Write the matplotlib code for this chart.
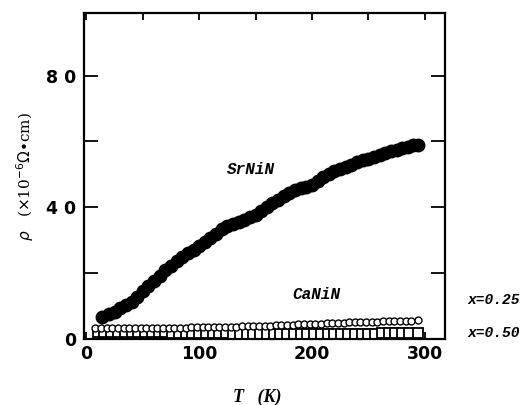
import matplotlib
matplotlib.use("Agg")
import matplotlib.pyplot as plt
from matplotlib.ticker import MultipleLocator, FuncFormatter

# ---- data ----
T_sr = [14, 20, 25, 30, 35, 40, 45, 50, 55, 60, 65, 70, 75, 80, 85, 90, 95, 100,
        105, 110, 115, 120, 125, 130, 135, 140, 145, 150, 155, 160, 165, 170, 175,
        180, 185, 190, 195, 200, 205, 210, 215, 220, 225, 230, 235, 240, 245, 250,
        255, 260, 265, 270, 275, 280, 285, 290, 294]
rho_sr = [6.7, 7.6, 8.3, 9.3, 10.2, 11.3, 12.8, 14.5, 16.0, 17.5, 19.2, 20.8, 22.3,
          23.6, 25.0, 26.2, 27.0, 28.2, 29.6, 30.8, 32.0, 33.3, 34.2, 35.0, 35.6,
          36.2, 37.0, 37.8, 39.0, 40.2, 41.3, 42.3, 43.3, 44.3, 45.2, 45.8, 46.0,
          46.8, 48.0, 49.2, 50.2, 51.0, 51.6, 52.2, 52.9, 53.6, 54.2, 54.8, 55.3,
          56.0, 56.5, 57.0, 57.5, 58.0, 58.4, 58.8, 59.0]

T_025 = [8, 13, 18, 23, 28, 33, 38, 43, 48, 53, 58, 63, 68, 73, 78, 83, 88, 93, 98,
         103, 108, 113, 118, 123, 128, 133, 138, 143, 148, 153, 158, 163, 168, 173,
         178, 183, 188, 193, 198, 203, 208, 213, 218, 223, 228, 233, 238, 243, 248,
         253, 258, 263, 268, 273, 278, 283, 288, 294]
rho_025 = [3.3, 3.3, 3.3, 3.3, 3.3, 3.3, 3.3, 3.3, 3.3, 3.3, 3.3, 3.3, 3.3, 3.4,
           3.4, 3.4, 3.4, 3.5, 3.5, 3.5, 3.5, 3.6, 3.6, 3.6, 3.7, 3.7, 3.8, 3.8,
           3.9, 3.9, 4.0, 4.0, 4.1, 4.2, 4.3, 4.3, 4.4, 4.5, 4.6, 4.6, 4.7, 4.8,
           4.9, 4.9, 5.0, 5.1, 5.1, 5.2, 5.2, 5.3, 5.3, 5.4, 5.4, 5.5, 5.5, 5.6,
           5.6, 5.7]

T_050 = [10, 16, 22, 28, 34, 40, 46, 52, 58, 64, 70, 76, 82, 88, 94, 100, 106, 112,
         118, 124, 130, 136, 142, 148, 154, 160, 166, 172, 178, 184, 190, 196, 202,
         208, 214, 220, 226, 232, 238, 244, 250, 256, 262, 268, 274, 280, 286, 294]
rho_050 = [2.0, 2.0, 2.0, 2.0, 2.0, 2.0, 2.0, 2.0, 2.0, 2.0, 2.0, 1.9, 1.9, 1.9, 1.9,
           1.9, 1.9, 1.9, 1.8, 1.8, 1.6, 1.6, 1.6, 1.6, 1.6, 1.6, 1.6, 1.6, 1.6,
           1.6, 1.6, 1.6, 1.6, 1.6, 1.6, 1.6, 1.6, 1.6, 1.6, 1.6, 1.6, 1.6, 1.7,
           1.7, 1.7, 1.7, 1.8, 1.8]

x_ticks_labeled = [0, 100, 200, 300]
y_ticks_labeled = [0, 40, 80]

fig = plt.figure(figsize=(5.26, 4.05), dpi=100)
ax = fig.add_axes([0.160, 0.163, 0.686, 0.805])

ax.plot(T_050, rho_050, linestyle='none', marker='s', markersize=7.5,
        markerfacecolor='white', markeredgecolor='black', markeredgewidth=1.3)
ax.plot(T_025, rho_025, linestyle='none', marker='o', markersize=5,
        markerfacecolor='white', markeredgecolor='black', markeredgewidth=1.0)
ax.plot(T_sr, rho_sr, linestyle='none', marker='o', markersize=9,
        markerfacecolor='black', markeredgecolor='black')

ax.set_xlim(-2, 318)
ax.set_ylim(0, 99)

ax.xaxis.set_major_locator(MultipleLocator(50))
ax.yaxis.set_major_locator(MultipleLocator(20))
ax.xaxis.set_major_formatter(FuncFormatter(
    lambda v, p: f"{int(round(v))}" if int(round(v)) in x_ticks_labeled else ""))
ax.yaxis.set_major_formatter(FuncFormatter(
    lambda v, p: " ".join(str(int(round(v)))) if int(round(v)) in y_ticks_labeled else ""))

ax.tick_params(axis='both', which='major', direction='in', length=10, width=1.3,
               top=True, right=True, labelsize=12.5)
ax.tick_params(axis='x', which='major', length=5, pad=4)
ax.tick_params(axis='y', which='major', pad=6)
for lab in ax.get_xticklabels() + ax.get_yticklabels():
    lab.set_family(['Liberation Sans Narrow', 'DejaVu Sans'])
    lab.set_fontweight('bold')

for s in ax.spines.values():
    s.set_linewidth(1.6)

mono = dict(family=['Liberation Mono', 'DejaVu Sans Mono'], fontweight='bold',
            fontstyle='italic')
ax.text(146, 51.5, "SrNiN", fontsize=11.5, ha='center', va='center', **mono)
ax.text(204, 13.4, "CaNiN", fontsize=11.5, ha='center', va='center', **mono)
fig.text(0.888, 0.259, "x=0.25", fontsize=10.5, ha='left', va='center', **mono)
fig.text(0.888, 0.178, "x=0.50", fontsize=10.5, ha='left', va='center', **mono)

fig.text(0.048, 0.565, r"$\rho$   ($\times$10$^{-6}$$\Omega$•cm)", rotation=90,
         ha='center', va='center', fontsize=11,
         family=['DejaVu Serif'])
fig.text(0.49, 0.02, "T   (K)", ha='center', va='center', fontsize=13,
         family=['Liberation Serif', 'DejaVu Serif'], fontweight='bold',
         fontstyle='italic')

fig.savefig("out.png", dpi=100)
